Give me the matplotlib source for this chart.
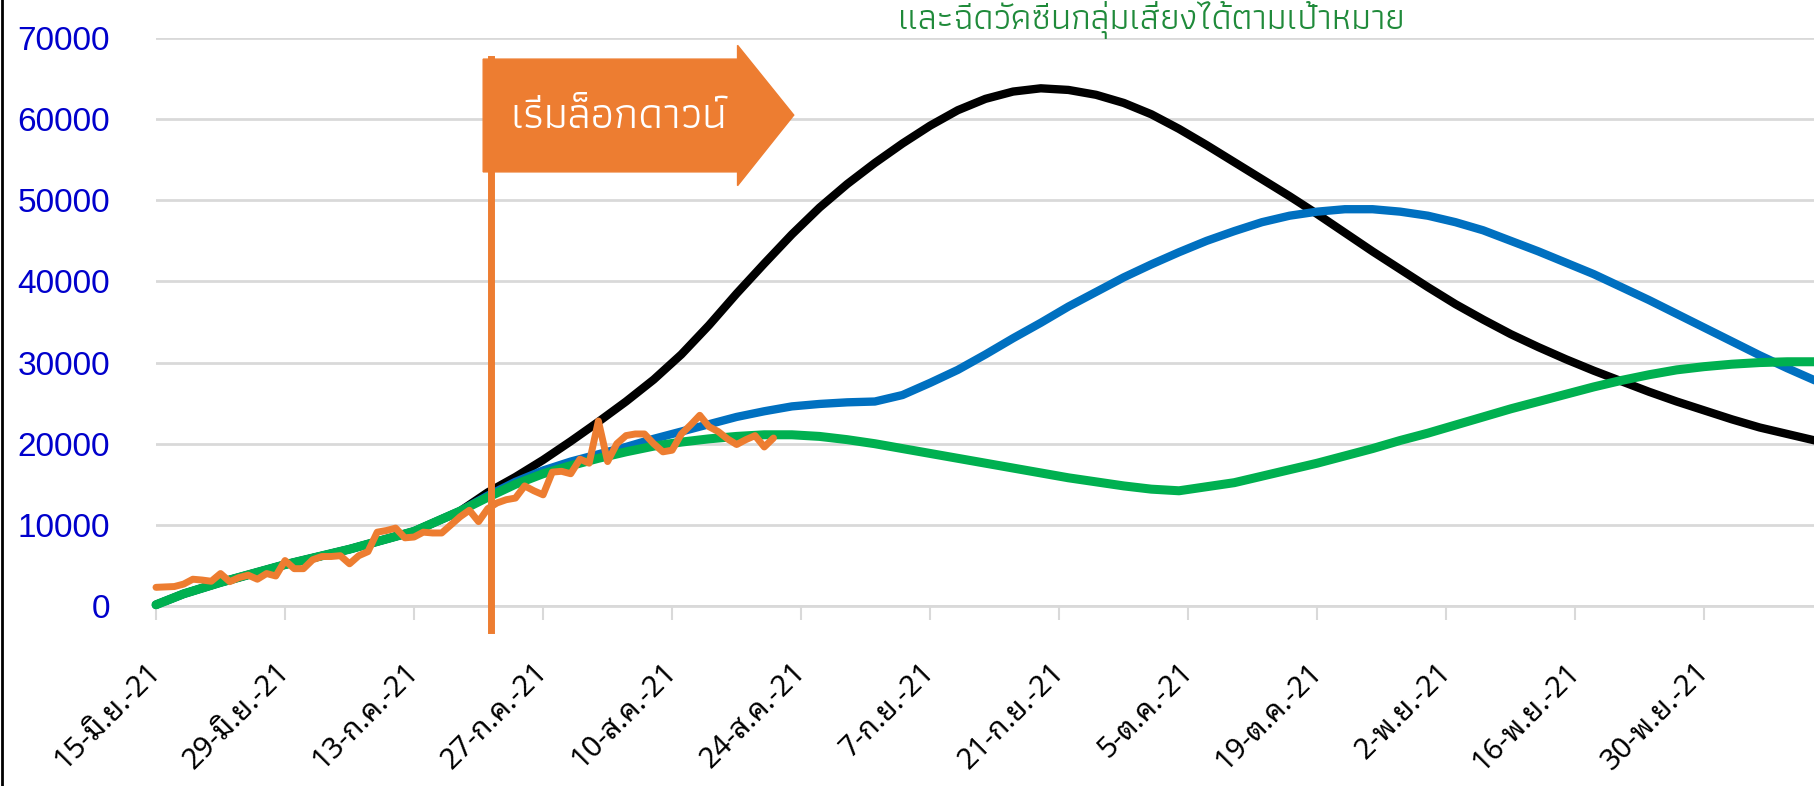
import numpy as np
import matplotlib
matplotlib.use("Agg")
import matplotlib.pyplot as plt
import matplotlib.transforms as mtransforms
from matplotlib.patches import Polygon
from matplotlib.lines import Line2D

# x axis counted in days from 15-Jun-21
tick_days = [0, 14, 28, 42, 56, 70, 84, 98, 112, 126, 140, 154, 168]
tick_labels = ["15-มิ.ย.-21", "29-มิ.ย.-21", "13-ก.ค.-21", "27-ก.ค.-21",
               "10-ส.ค.-21", "24-ส.ค.-21", "7-ก.ย.-21", "21-ก.ย.-21",
               "5-ต.ค.-21", "19-ต.ค.-21", "2-พ.ย.-21", "16-พ.ย.-21",
               "30-พ.ย.-21"]
yticks = [0, 10000, 20000, 30000, 40000, 50000, 60000, 70000]

# model projections
model_days = [0, 3, 7, 14, 21, 28, 33,
              36, 39, 42, 45, 48, 51, 54, 57, 60, 63, 66, 69, 72, 75, 78, 81,
              84, 87, 90, 93, 96, 99, 102, 105, 108, 111, 114, 117, 120, 123,
              126, 129, 132, 135, 138, 141, 144, 147, 150, 153, 156, 159, 162,
              165, 168, 171, 174, 177, 180]
black_case = [150, 1500, 2900, 5100, 7000, 9200, 11700,
              14000, 15900, 18000, 20300, 22700, 25200, 27900, 31000, 34600,
              38500, 42200, 45800, 49100, 52000, 54600, 57000, 59200, 61100,
              62500, 63400, 63800, 63600, 63000, 62000, 60600, 58800, 56800,
              54700, 52600, 50500, 48300, 46000, 43700, 41500, 39300, 37200,
              35300, 33500, 31900, 30400, 29000, 27700, 26400, 25200, 24100,
              23000, 22000, 21200, 20400]
blue_case = [150, 1500, 2900, 5100, 7000, 9200, 11700,
             13600, 15300, 16700, 17800, 18700, 19600, 20600, 21500, 22400,
             23300, 24000, 24600, 24900, 25100, 25200, 26000, 27500, 29100,
             31000, 33000, 34900, 36900, 38700, 40500, 42100, 43600, 45000,
             46200, 47300, 48100, 48600, 48900, 48900, 48600, 48100, 47300,
             46300, 45000, 43700, 42300, 40900, 39300, 37700, 36000, 34300,
             32600, 30900, 29300, 27800]
green_case = [150, 1500, 2900, 5100, 7000, 9200, 11700,
              13400, 15000, 16300, 17300, 18200, 19000, 19700, 20200, 20600,
              20900, 21100, 21100, 20900, 20500, 20000, 19400, 18800, 18200,
              17600, 17000, 16400, 15800, 15300, 14800, 14400, 14200, 14700,
              15200, 16000, 16800, 17600, 18500, 19400, 20400, 21300, 22300,
              23300, 24300, 25200, 26100, 27000, 27800, 28500, 29100, 29500,
              29800, 30000, 30100, 30100]

# reported daily cases, one value per day from 15-Jun-21
actual = [2300, 2350, 2400, 2700, 3300, 3200, 3050, 4000, 3000, 3500,
          3800, 3300, 4000, 3700, 5600, 4600, 4600, 5700, 6100, 6100,
          6200, 5200, 6200, 6700, 9100, 9300, 9600, 8400, 8500, 9100,
          9000, 9000, 10000, 11000, 11800, 10400, 12000, 12700, 13100, 13300,
          14800, 14200, 13700, 16500, 16600, 16300, 18100, 17600, 22800, 17800,
          20000, 21000, 21200, 21200, 20000, 19000, 19200, 21200, 22300, 23500,
          22100, 21500, 20600, 19900, 20500, 21000, 19600, 20700]

lockdown_day = 36.3
lockdown_text = "เริ่มล็อกดาวน์"
title_line = "และฉีดวัคซีนกลุ่มเสี่ยงได้ตามเป้าหมาย"

label_font = ["Noto Sans Thai Looped", "Sarabun", "DejaVu Sans"]
title_font = ["Athiti", "Noto Sans Thai", "DejaVu Sans"]

fig = plt.figure(figsize=(18.14, 7.86), dpi=100)
ax = fig.add_axes([156 / 1814, 180 / 786, 1 - 156 / 1814, 568 / 786])

line_style = dict(solid_capstyle="round", solid_joinstyle="round", clip_on=False)
ax.plot(model_days, black_case, color="black", lw=6, zorder=2, **line_style)
ax.plot(model_days, blue_case, color="#0070C0", lw=6, zorder=3, **line_style)
ax.plot(model_days, green_case, color="#00B050", lw=6.5, zorder=4, **line_style)
ax.plot(np.arange(len(actual)), actual, color="#ED7D31", lw=5, zorder=5,
        **line_style)

# lockdown marker and arrow
ax.plot([lockdown_day, lockdown_day], [-3000, 67400], color="#ED7D31", lw=5,
        zorder=6, clip_on=False)
arrow = Polygon([[lockdown_day - 0.8, 67400], [lockdown_day + 26.8, 67400],
                 [lockdown_day + 26.8, 69100], [lockdown_day + 32.9, 60500],
                 [lockdown_day + 26.8, 51800], [lockdown_day + 26.8, 53500],
                 [lockdown_day - 0.8, 53500]],
                closed=True, color="#ED7D31", zorder=7, clip_on=False)
ax.add_patch(arrow)
ax.text(lockdown_day + 13.9, 58900, lockdown_text, color="white", fontsize=32,
        ha="center", va="baseline", family=title_font, zorder=8)

ax.set_xlim(0, 179.9)
ax.set_ylim(0, 70000)
ax.set_yticks(yticks)
ax.set_yticklabels([str(v) for v in yticks], color="#0000CC", fontsize=24,
                   family=["Liberation Sans", "DejaVu Sans"])
ax.set_xticks(tick_days)
ax.set_xticklabels(tick_labels, rotation=45, ha="right", fontsize=21,
                   family=label_font)
ax.tick_params(axis="y", length=0, pad=33)
ax.tick_params(axis="x", length=10, width=1.5, color="#D9D9D9", pad=27)
offset = mtransforms.ScaledTranslation(11 / 100, 0, fig.dpi_scale_trans)
for lab in ax.get_xticklabels():
    lab.set_transform(lab.get_transform() + offset)

ax.grid(axis="y", color="#D9D9D9", lw=2)
ax.set_axisbelow(True)
for side in ["top", "right", "left"]:
    ax.spines[side].set_visible(False)
ax.spines["bottom"].set_color("#D9D9D9")
ax.spines["bottom"].set_linewidth(2)

fig.text(1151 / 1814, 1 - 29 / 786, title_line, color="#1F8A3A", fontsize=26,
         ha="center", va="baseline", family=title_font)
fig.add_artist(Line2D([0.001, 0.001], [0, 1], color="black", lw=2,
                      transform=fig.transFigure))

fig.savefig("out.png", dpi=100)
